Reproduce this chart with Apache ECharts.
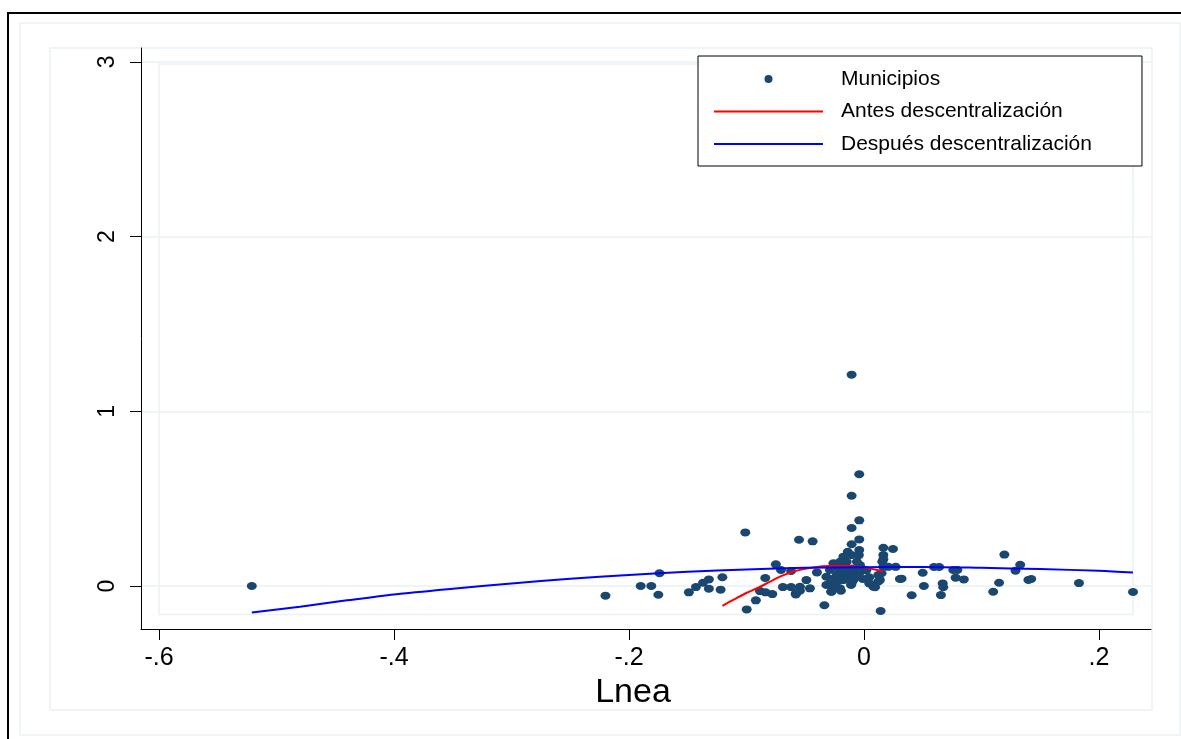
<!DOCTYPE html>
<html>
<head>
<meta charset="utf-8">
<script src="https://cdn.jsdelivr.net/npm/echarts@6/dist/echarts.min.js"></script>
<style>
html,body{margin:0;padding:0;background:#ffffff;}
#c{width:1181px;height:739px;}
</style>
</head>
<body>
<div id="c"></div>
<script>
// ---- tick labels ----
const xTicks = [-0.6, -0.4, -0.2, 0, 0.2];
const xTickLabels = ['-.6', '-.4', '-.2', '0', '.2'];
const yTicks = [0, 1, 2, 3];
const yTickLabels = ['0', '1', '2', '3'];

// ---- series names ----
const seriesNames = ['Municipios', 'Antes descentralización', 'Después descentralización'];

// ---- Municipios (scatter) ----
const municipiosX = [
  -0.521, -0.220, -0.190, -0.181, -0.174, -0.175, -0.149, -0.143, -0.137, -0.132,
  -0.132, -0.1205, -0.122, -0.101, -0.0998, -0.092, -0.0885, -0.0837, -0.078, -0.084,
  -0.075, -0.0706, -0.069, -0.062, -0.058, -0.0545, -0.0545, -0.0553, -0.0437, -0.049,
  -0.046, -0.062, -0.040, -0.0337, -0.032, -0.032, -0.028, -0.026, -0.0196, -0.019,
  -0.011, -0.009, -0.004, 0.0037, 0.0045, 0.008, 0.012, 0.0142, 0.0165, 0.0156,
  0.0165, 0.015, 0.027, 0.0306, 0.0406, -0.0105, -0.004, -0.0105, -0.004, -0.0105,
  -0.004, -0.0105, 0.0165, 0.0247, -0.004, -0.0138, -0.0175, -0.0105, -0.0043, -0.026,
  -0.0204, -0.0147, -0.006, -0.022, -0.016, -0.0105, -0.0034, -0.029, -0.0232, -0.0176,
  -0.012, -0.0176, -0.023, -0.0105, -0.029, -0.026, -0.0275, -0.0204, -0.058, 0.0045,
  0.0094, 0.0122, 0.0136, 0.0165, 0.0207, 0.050, 0.051, 0.0596, 0.064, 0.067,
  0.0675, 0.0655, 0.076, 0.0795, 0.078, 0.085, 0.110, 0.115, 0.1195, 0.133,
  0.129, 0.1424, 0.140, 0.183, 0.229, 0.032, -0.008, -0.013, -0.002, -0.018,
  -0.007, -0.025, -0.001, 0.002
];
const municipiosY = [
  0.000, -0.055, 0.000, 0.000, 0.073, -0.050, -0.036, -0.006, 0.019, 0.038,
  -0.015, 0.050, -0.021, 0.307, -0.134, -0.082, -0.029, -0.036, -0.046, 0.046,
  0.124, 0.092, -0.006, -0.006, -0.048, -0.004, -0.027, 0.265, 0.256, 0.034,
  -0.013, 0.086, 0.078, -0.110, 0.053, 0.006, -0.033, -0.004, -0.027, 0.034,
  0.006, 0.034, 0.073, 0.044, 0.015, -0.004, 0.025, -0.143, 0.177, 0.139,
  0.110, 0.073, 0.110, 0.040, -0.053, 1.210, 0.640, 0.517, 0.376, 0.332,
  0.267, 0.239, 0.219, 0.212, 0.206, 0.196, 0.168, 0.177, 0.177, 0.130,
  0.139, 0.139, 0.139, 0.101, 0.110, 0.101, 0.120, 0.092, 0.063, 0.073,
  0.053, 0.034, 0.025, 0.015, 0.015, -0.013, -0.033, -0.013, -0.042, 0.050,
  -0.007, 0.063, 0.034, 0.153, 0.110, 0.076, 0.000, 0.109, 0.109, 0.015,
  -0.007, -0.052, 0.092, 0.092, 0.048, 0.038, -0.033, 0.019, 0.180, 0.122,
  0.088, 0.040, 0.035, 0.017, -0.034, 0.042, 0.090, 0.085, 0.100, 0.120,
  0.060, 0.045, 0.040, 0.090
];

// ---- Antes descentralización (red fitted line) ----
const antesX = [-0.1205, -0.11, -0.10, -0.09, -0.08, -0.07, -0.06, -0.05, -0.04, -0.03, -0.02, -0.01, 0.00, 0.0165];
const antesY = [-0.113, -0.075, -0.040, -0.010, 0.025, 0.058, 0.083, 0.099, 0.109, 0.114, 0.115, 0.113, 0.106, 0.085];

// ---- Después descentralización (blue fitted line) ----
const despuesX = [-0.521, -0.48, -0.44, -0.40, -0.35, -0.30, -0.25, -0.20, -0.15, -0.10, -0.05, 0.00, 0.05, 0.10, 0.15, 0.20, 0.229];
const despuesY = [-0.151, -0.118, -0.082, -0.048, -0.015, 0.015, 0.042, 0.063, 0.082, 0.095, 0.104, 0.108, 0.109, 0.104, 0.097, 0.087, 0.077];

const FONT = "'Liberation Sans', Arial, Helvetica, sans-serif";
const GRID_COLOR = '#eaf2f3';

function zip(xs, ys) { return xs.map((x, i) => [x, ys[i]]); }
function lookup(ticks, labels, v) {
  const i = ticks.findIndex(t => Math.abs(t - v) < 1e-9);
  return i >= 0 ? labels[i] : '';
}

const chart = echarts.init(document.getElementById('c'), null, { renderer: 'canvas' });

const option = {
  animation: false,
  backgroundColor: '#ffffff',
  grid: { left: 141, right: 30, top: 48, bottom: 110, containLabel: false },
  legend: {
    orient: 'vertical',
    left: 698,
    top: 56,
    padding: [12, 50, 11, 15],
    itemGap: 10.5,
    itemWidth: 109,
    itemHeight: 8,
    backgroundColor: '#ffffff',
    borderColor: '#000000',
    borderWidth: 1,
    z: 10,
    data: [
      { name: seriesNames[0], icon: 'circle' },
      { name: seriesNames[1], itemStyle: { opacity: 0 } },
      { name: seriesNames[2], itemStyle: { opacity: 0 } }
    ],
    textStyle: {
      fontFamily: FONT,
      fontSize: 21,
      color: '#000000',
      lineHeight: 22,
      padding: [0, 0, 0, 13]
    }
  },
  xAxis: {
    type: 'value',
    min: -0.6153,
    max: 0.2443,
    name: 'Lnea',
    nameLocation: 'middle',
    nameGap: 43,
    nameTextStyle: { fontFamily: FONT, fontSize: 34, color: '#000000', padding: [0, 26, 0, 0] },
    axisLine: { show: true, onZero: false, lineStyle: { color: '#000000', width: 1 } },
    axisTick: { show: true, length: 11, customValues: xTicks, lineStyle: { color: '#000000', width: 1 } },
    axisLabel: {
      show: true,
      customValues: xTicks,
      margin: 17,
      fontFamily: FONT,
      fontSize: 25,
      color: '#000000',
      formatter: v => lookup(xTicks, xTickLabels, v)
    },
    splitLine: { show: false }
  },
  yAxis: {
    type: 'value',
    min: -0.246,
    max: 3.08,
    axisLine: { show: true, onZero: false, lineStyle: { color: '#000000', width: 1 } },
    axisTick: { show: true, length: 11, customValues: yTicks, lineStyle: { color: '#000000', width: 1 } },
    axisLabel: {
      show: true,
      customValues: yTicks,
      rotate: 90,
      margin: 22,
      fontFamily: FONT,
      fontSize: 23,
      color: '#000000',
      formatter: v => lookup(yTicks, yTickLabels, v)
    },
    splitLine: { show: true, lineStyle: { color: GRID_COLOR, width: 1.5 } }
  },
  series: [
    {
      name: seriesNames[0],
      type: 'scatter',
      data: zip(municipiosX, municipiosY),
      symbol: 'circle',
      symbolSize: [10, 8],
      itemStyle: { color: '#1a476f', opacity: 1 },
      z: 3
    },
    {
      name: seriesNames[1],
      type: 'line',
      data: zip(antesX, antesY),
      symbol: 'none',
      smooth: 0.3,
      lineStyle: { color: '#ff0000', width: 2 },
      itemStyle: { color: '#ff0000' },
      z: 4
    },
    {
      name: seriesNames[2],
      type: 'line',
      data: zip(despuesX, despuesY),
      symbol: 'none',
      smooth: 0.3,
      lineStyle: { color: '#0000ff', width: 2 },
      itemStyle: { color: '#0000ff' },
      z: 5
    }
  ]
};

chart.setOption(option);

// decorative frames (graph region outlines and plot region box)
const xMinData = Math.min(...xTicks);
const xMaxData = Math.max(...municipiosX);
const yMinData = Math.min(...despuesY);
const yMaxData = Math.max(...yTicks);
const p1 = chart.convertToPixel({ gridIndex: 0 }, [xMinData, yMaxData]);
const p2 = chart.convertToPixel({ gridIndex: 0 }, [xMaxData, yMinData]);

chart.setOption({
  graphic: [
    { type: 'rect', z: -10, silent: true, shape: { x: 8, y: 13, width: 1200, height: 760 },
      style: { fill: 'none', stroke: '#000000', lineWidth: 2 } },
    { type: 'rect', z: -10, silent: true, shape: { x: 20, y: 23, width: 1160, height: 712 },
      style: { fill: 'none', stroke: GRID_COLOR, lineWidth: 1.5 } },
    { type: 'rect', z: -10, silent: true, shape: { x: 50, y: 48, width: 1102, height: 662 },
      style: { fill: 'none', stroke: GRID_COLOR, lineWidth: 1.5 } },
    { type: 'rect', z: -10, silent: true,
      shape: { x: p1[0], y: p1[1] + 2, width: p2[0] - p1[0], height: p2[1] - p1[1] },
      style: { fill: 'none', stroke: GRID_COLOR, lineWidth: 1.5 } }
  ]
});
</script>
</body>
</html>
